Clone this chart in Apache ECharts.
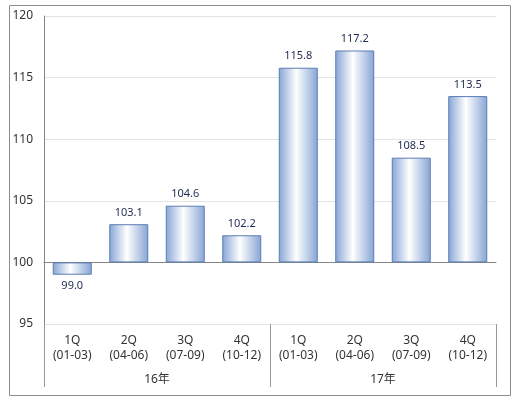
<!DOCTYPE html>
<html>
<head>
<meta charset="utf-8">
<script src="https://cdn.jsdelivr.net/npm/echarts@6/dist/echarts.min.js"></script>
<style>html,body{margin:0;padding:0;background:#fff}#c{width:516px;height:398px}</style>
</head>
<body>
<div id="c"></div>
<script>
var quarters = ['1Q\n(01-03)','2Q\n(04-06)','3Q\n(07-09)','4Q\n(10-12)','1Q\n(01-03)','2Q\n(04-06)','3Q\n(07-09)','4Q\n(10-12)'];
var years = ['16年','17年'];
var values = [99.0, 103.1, 104.6, 102.2, 115.8, 117.2, 108.5, 113.5];
var baseValue = 100;
var yTicks = [95, 100, 105, 110, 115, 120];

var font = '"Noto Sans", "Noto Sans CJK SC", sans-serif';
var chart = echarts.init(document.getElementById('c'));
var barColor = new echarts.graphic.LinearGradient(0, 0, 1, 0, [
  {offset: 0, color: '#86a4d4'},
  {offset: 0.45, color: '#ffffff'},
  {offset: 1, color: '#86a4d4'}
]);
chart.setOption({
  animation: false,
  graphic: [{
    type: 'rect', left: 7, top: 3, shape: {width: 501, height: 390},
    style: {fill: 'none', stroke: '#8c8c8c', lineWidth: 1}, silent: true
  }],
  grid: {left: 44, right: 20, top: 16, bottom: 74},
  xAxis: [
    {type: 'category', data: quarters, axisLine: {onZero: true, lineStyle: {color: '#868686'}},
     axisTick: {show: false}, axisLabel: {show: false}},
    {type: 'category', data: quarters, position: 'bottom', axisLine: {show: false, onZero: false},
     axisTick: {show: false},
     axisLabel: {margin: 9, fontSize: 12, lineHeight: 15, color: '#333', fontFamily: font, interval: 0}},
    {type: 'category', data: years, position: 'bottom', axisLine: {show: false, onZero: false},
     axisTick: {show: true, length: 63, lineStyle: {color: '#999'}},
     axisLabel: {margin: 50, fontSize: 12, color: '#333', fontFamily: font}}
  ],
  yAxis: {
    type: 'value', min: yTicks[0] - baseValue, max: yTicks[yTicks.length - 1] - baseValue, interval: 5,
    axisLine: {show: true, lineStyle: {color: '#868686'}},
    axisTick: {show: false},
    axisLabel: {margin: 11, fontSize: 12, color: '#333', fontFamily: font,
      formatter: function (v) { return String(v + baseValue); }},
    splitLine: {lineStyle: {color: '#e4e4e4'}}
  },
  series: [{
    type: 'bar', xAxisIndex: 0, barWidth: 39,
    data: values.map(function (v) {
      return {value: +(v - baseValue).toFixed(1),
        label: {position: v >= baseValue ? 'top' : 'bottom'}};
    }),
    itemStyle: {color: barColor, borderColor: '#5a7db5', borderWidth: 1},
    label: {show: true, distance: 6, fontSize: 11, color: '#1d2b4f', fontFamily: font,
      formatter: function (p) { return values[p.dataIndex].toFixed(1); }}
  }]
});
</script>
</body>
</html>
